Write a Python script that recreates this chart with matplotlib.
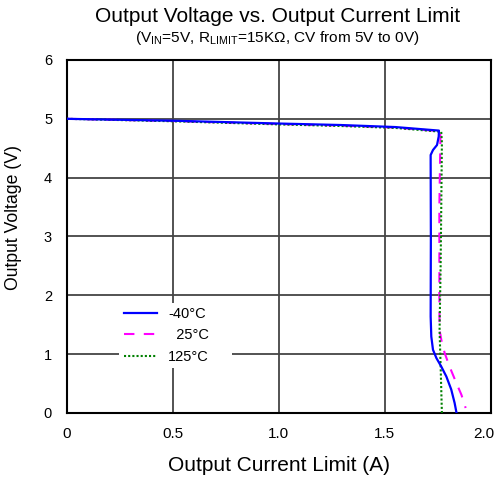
import matplotlib
matplotlib.use("Agg")
import matplotlib.pyplot as plt
from matplotlib.transforms import ScaledTranslation

plt.rcParams['font.family'] = ['Liberation Sans', 'DejaVu Sans']
plt.rcParams['mathtext.fontset'] = 'custom'
plt.rcParams['mathtext.rm'] = 'Liberation Sans'

# -40C curve (current A, voltage V)
i_m40 = [0.0, 0.5, 1.0, 1.29, 1.55, 1.755, 1.754, 1.746, 1.727, 1.716, 1.716, 1.717, 1.716, 1.719,
         1.727, 1.743, 1.766, 1.79, 1.813, 1.829, 1.838]
v_m40 = [5.0, 4.968, 4.92, 4.895, 4.86, 4.80, 4.70, 4.555, 4.47, 4.385, 4.27, 3.0, 1.64, 1.30,
         1.075, 0.934, 0.79, 0.62, 0.40, 0.17, 0.0]

# 25C curve
i_25 = [0.0, 0.5, 1.0, 1.29, 1.55, 1.76, 1.762, 1.757, 1.757, 1.758, 1.769, 1.782, 1.805,
        1.837, 1.861, 1.881]
v_25 = [5.0, 4.962, 4.912, 4.885, 4.85, 4.79, 4.70, 3.5, 2.0, 1.41, 1.19, 1.02, 0.79,
        0.51, 0.31, 0.085]

# 125C curve
i_125 = [0.0, 0.5, 1.0, 1.29, 1.55, 1.766, 1.769, 1.766, 1.763, 1.758, 1.763, 1.769]
v_125 = [5.0, 4.958, 4.905, 4.878, 4.845, 4.78, 4.6, 3.5, 2.5, 1.4, 0.8, 0.0]

labels = ["-40°C", "  25°C", "125°C"]
xticks = [0, 0.5, 1.0, 1.5, 2.0]
xticklabels = ["0", "0.5", "1.0", "1.5", "2.0"]
yticks = [0, 1, 2, 3, 4, 5, 6]

fig = plt.figure(figsize=(4.95, 4.78), dpi=100)
ax = fig.add_axes([0.1347, 0.136, 0.857, 0.7385])

ax.plot(i_m40, v_m40, color="#0000FF", lw=1.6, label=labels[0], zorder=4)
ax.plot(i_25, v_25, color="#FF00FF", lw=1.5, dashes=(5, 4.5), label=labels[1], zorder=3)
ax.plot(i_125, v_125, color="#008000", lw=1.5, linestyle=(0, (1, 1)), label=labels[2], zorder=3)

ax.set_xlim(0, 2.0)
ax.set_ylim(0, 6)
ax.set_xticks(xticks)
ax.set_xticklabels(xticklabels)
ax.set_yticks(yticks)
ax.tick_params(length=0)
ax.tick_params(axis="x", labelsize=11, pad=10)
ax.tick_params(axis="y", labelsize=10.5, pad=10.5)
# last x label sits a bit left, like the original
last = ax.get_xticklabels()[-1]
last.set_transform(last.get_transform() + ScaledTranslation(-7 / 100, 0, fig.dpi_scale_trans))

ax.grid(True, color="#444444", lw=1.3)
for s in ax.spines.values():
    s.set_linewidth(1.5)
    s.set_color("black")

ax.set_xlabel("Output Current Limit (A)", fontsize=15, labelpad=11)
ax.set_ylabel("Output Voltage (V)", fontsize=12.7, labelpad=8)
ax.yaxis.set_label_coords(-0.105, 0.553)

leg = ax.legend(loc="lower left", bbox_to_anchor=(0.124, 0.127, 0.266, 0.187), mode="expand",
                fontsize=10.5, frameon=True, framealpha=1, facecolor="white", edgecolor="none",
                fancybox=False, handlelength=2.3, handletextpad=0.75, labelspacing=0.5,
                borderpad=0.3, borderaxespad=0)

fig.text(0.561, 0.966, "Output Voltage vs. Output Current Limit", ha="center", va="center",
         fontsize=15)
fig.text(0.561, 0.92, r"(V$_{\mathregular{IN}}$=5V, R$_{\mathregular{LIMIT}}$=15KΩ, CV from 5V to 0V)",
         ha="center", va="center", fontsize=11.1)

fig.savefig("out.png", dpi=100)
